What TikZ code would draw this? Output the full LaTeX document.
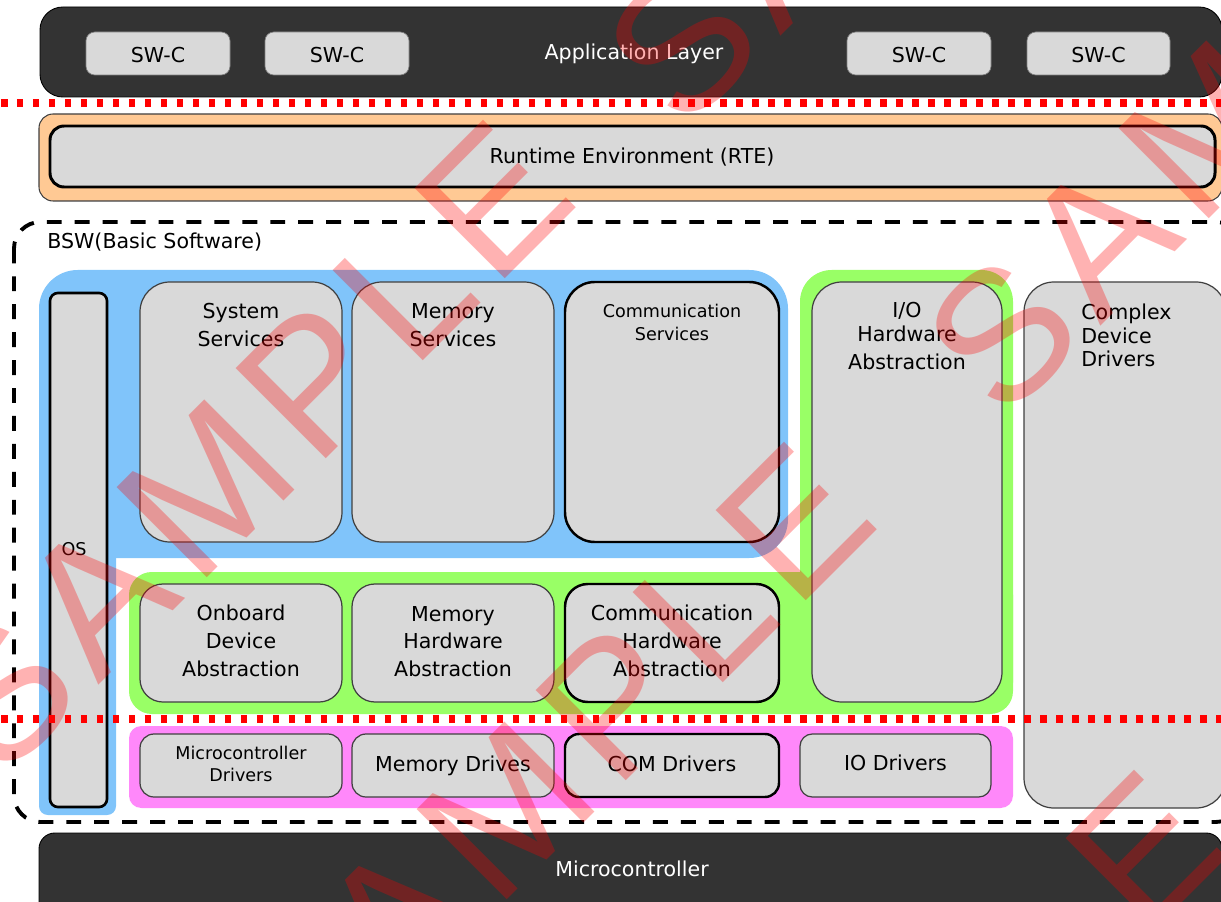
\documentclass[tikz,border=0pt]{standalone}
\usepackage{fontspec}
\setmainfont{DejaVu Sans}
\newfontfamily\wmfont[LetterSpace=7.5]{Liberation Sans}
\definecolor{darkbar}{RGB}{51,51,51}
\definecolor{boxgray}{RGB}{217,217,217}
\definecolor{edgegray}{RGB}{64,64,64}
\definecolor{rteorange}{RGB}{255,201,148}
\definecolor{bswblue}{RGB}{128,196,250}
\definecolor{halgreen}{RGB}{153,255,102}
\definecolor{mcalpink}{RGB}{255,136,250}
\tikzset{
    % layer bars and boxes
    barbox/.style={
        draw=black, line width=0.5pt, fill=darkbar
    },
    swcbox/.style={
        draw=gray, line width=0.4pt, fill=boxgray,
        rounded corners=5pt
    },
    grybox/.style={
        draw=edgegray, line width=0.7pt, fill=boxgray
    },
    thickbox/.style={
        draw=black, line width=1.4pt, fill=boxgray
    },
    rtebox/.style={
        draw=edgegray, line width=0.6pt, fill=rteorange,
        rounded corners=8pt
    },
    bswframe/.style={
        draw=black, line width=2.2pt, dash pattern=on 8.5pt off 7.4pt,
        rounded corners=15pt
    },
    layerline/.style={
        draw=red, line width=4pt, dash pattern=on 3.7pt off 5.4pt
    },
    % texts
    lbl/.style={font=\fontsize{11.7}{15.9}\selectfont, inner sep=0pt},
    lbltight/.style={font=\fontsize{11.7}{13.4}\selectfont, inner sep=0pt},
    smalllbl/.style={font=\fontsize{10}{12.9}\selectfont, inner sep=0pt},
    bartext/.style={lbl, text=white},
    wmark/.style={
        text=red, text opacity=0.3, inner sep=0pt, rotate=45,
        font=\wmfont\fontsize{105.5}{120}\selectfont
    }
}

\begin{document}
\begin{tikzpicture}[x=0.02cm, y=-0.02cm]
\useasboundingbox (0,0) rectangle (1221,902);

% Application layer
\draw[barbox, rounded corners=13pt] (40,7) rectangle (1222,97);
\node[bartext, anchor=base] (applbl) at (634,59.3) {Application Layer};
\foreach \xa/\xb [count=\i] in {86/230, 265/409, 847/991, 1027/1170} {
    \draw[swcbox] (\xa,32) rectangle (\xb,75);
    \node[lbl, anchor=base] (swc\i) at ({(\xa+\xb)/2},62.7) {SW-C};
}

% RTE
\draw[rtebox] (39,114) rectangle (1222,201);
\draw[thickbox, line width=1.7pt, rounded corners=8pt] (50,126) rectangle (1215,187);
\node[lbl, anchor=base] (rtelbl) at (632,164) {Runtime Environment (RTE)};

% BSW frame
\draw[bswframe] (14,222) rectangle (1242,822);
\node[lbl, anchor=base west] (bswlbl) at (47,248.3) {BSW(Basic Software)};

% coloured layer regions
\fill[bswblue, rounded corners=22pt] (39,270) rectangle (788,558);
\fill[bswblue, rounded corners=5pt] (39,400) rectangle (116,815);
\fill[halgreen, rounded corners=18pt] (800,270) rectangle (1013,714);
\fill[halgreen, rounded corners=13pt] (129,572) rectangle (1013,714);
\fill[mcalpink, rounded corners=7pt] (129,726) rectangle (1013,808);

% OS
\draw[thickbox, line width=1.5pt, rounded corners=4.5pt] (50,293) rectangle (107,807);
\node[smalllbl, anchor=base] (oslbl) at (74,555) {OS};

% Services layer
\draw[grybox, rounded corners=17pt] (140,282) rectangle (342,542);
\draw[grybox, rounded corners=17pt] (352,282) rectangle (554,542);
\draw[thickbox, rounded corners=17pt] (565,282) rectangle (779,542);
\node[lbl, align=center, anchor=north] (syssvc) at (241,303.3) {System\\Services};
\node[lbl, align=center, anchor=north] (memsvc) at (453,303.3) {Memory\\Services};
\node[smalllbl, align=center, anchor=north] (comsvc) at (672,303.9) {Communication\\Services};

% I/O hardware abstraction and complex drivers
\draw[grybox, rounded corners=17pt] (812,282) rectangle (1002,702);
\node[lbltight, align=center, anchor=north] (iohwab) at (907,302.3) {I/O\\Hardware\\[2.3pt]Abstraction};
\draw[grybox, rounded corners=17pt] (1024,282) rectangle (1226,808);
\node[lbltight, align=left, anchor=north west] (cdd) at (1081,303.6) {Complex\\Device\\Drivers};

% ECU abstraction layer
\draw[grybox, rounded corners=13pt] (140,584) rectangle (342,702);
\draw[grybox, rounded corners=13pt] (352,584) rectangle (554,702);
\draw[thickbox, rounded corners=13pt] (565,584) rectangle (779,702);
\node[lbl, align=center, anchor=north] (onbdev) at (241,605) {Onboard\\Device\\Abstraction};
\node[lbl, align=center, anchor=north] (memhw) at (453,605.7) {Memory\\Hardware\\Abstraction};
\node[lbl, align=center, anchor=north] (comhw) at (672,605) {Communication\\Hardware\\Abstraction};

% MCAL
\draw[grybox, rounded corners=8pt] (140,734) rectangle (342,797);
\draw[grybox, rounded corners=8pt] (352,734) rectangle (554,797);
\draw[thickbox, rounded corners=8pt] (565,734) rectangle (779,797);
\draw[grybox, rounded corners=7pt] (800,734) rectangle (991,797);
\node[smalllbl, align=center, anchor=north] (mcudrv) at (241,745.6) {Microcontroller\\Drivers};
\node[lbl, anchor=base] (memdrv) at (453,771.7) {Memory Drives};
\node[lbl, anchor=base] (comdrv) at (672,771.7) {COM Drivers};
\node[lbl, anchor=base] (iodrv) at (895.5,770.7) {IO Drivers};

% layer borders
\draw[layerline] (1,103) -- (1221,103);
\draw[layerline] (1,719) -- (1221,719);

% Microcontroller
\draw[barbox, rounded corners=9pt] (39,833) rectangle (1222,930);
\node[bartext, anchor=base] (mculbl) at (632,876.7) {Microcontroller};

% watermark
\foreach \cx/\cy [count=\k] in {247/447, 929/-202, 547/769, 1249/88, 897/1097}
    \node[wmark] (wm\k) at (\cx,\cy) {SAMPLE};

\end{tikzpicture}
\end{document}
